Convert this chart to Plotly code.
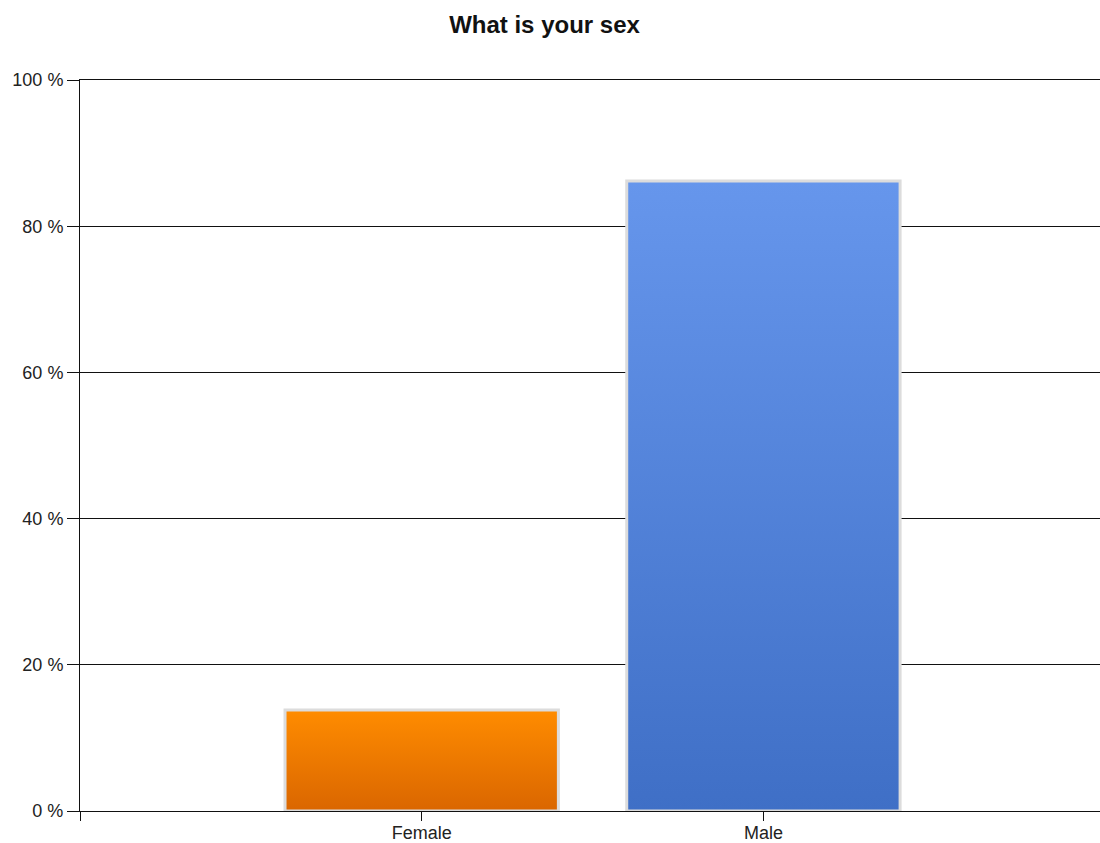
import plotly.graph_objects as go

# Survey answers: share of respondents per category (percent)
categories = ["Female", "Male"]
shares = [13.8, 86.2]

# Vertical gradient per bar: (bottom colour, top colour)
bar_gradients = [("#DA6600", "#FF8C00"), ("#3F6FC6", "#6696EC")]

y_ticks = [0, 20, 40, 60, 80, 100]
y_tick_labels = [f"{v} %" for v in y_ticks]
bar_half_width = 0.4

fig = go.Figure()

for i, (cat, val) in enumerate(zip(categories, shares)):
    bottom, top = bar_gradients[i]
    fig.add_trace(go.Scatter(
        x=[i - bar_half_width, i + bar_half_width, i + bar_half_width, i - bar_half_width, i - bar_half_width],
        y=[0, 0, val, val, 0],
        mode="lines",
        fill="toself",
        fillgradient=dict(type="vertical", colorscale=[[0, bottom], [1, top]]),
        line=dict(color="#dcdcdc", width=3),
        name=cat,
        hoverinfo="text",
        text=f"{cat}: {val} %",
        showlegend=False,
    ))

axis_font = dict(family="Liberation Sans, Arial, sans-serif", size=18, color="#222222")

fig.update_layout(
    width=1100,
    height=843,
    margin=dict(l=80, r=0, t=80, b=32, autoexpand=False),
    paper_bgcolor="white",
    plot_bgcolor="white",
    title=dict(
        text="<b>What is your sex</b>",
        x=0.495, xref="container", xanchor="center",
        y=0.971, yref="container", yanchor="middle",
        font=dict(family="Liberation Sans, Arial, sans-serif", size=24, color="#111111"),
    ),
    xaxis=dict(
        range=[-1, 1.985],
        tickvals=[-1, 0, 1],
        ticktext=[""] + categories,
        ticks="outside", ticklen=9, tickcolor="#111111", tickwidth=1,
        ticklabelstandoff=-4,
        showgrid=False, zeroline=False,
        showline=True, mirror=True, linecolor="#111111", linewidth=1,
        tickfont=axis_font,
        fixedrange=True,
    ),
    yaxis=dict(
        range=[0, 100],
        tickvals=y_ticks,
        ticktext=y_tick_labels,
        ticks="outside", ticklen=12, tickcolor="#111111", tickwidth=1,
        showgrid=True, gridcolor="#111111", gridwidth=1,
        zeroline=False,
        showline=True, linecolor="#111111", linewidth=1,
        tickfont=axis_font,
        fixedrange=True,
    ),
)

fig.write_html("out.html")
